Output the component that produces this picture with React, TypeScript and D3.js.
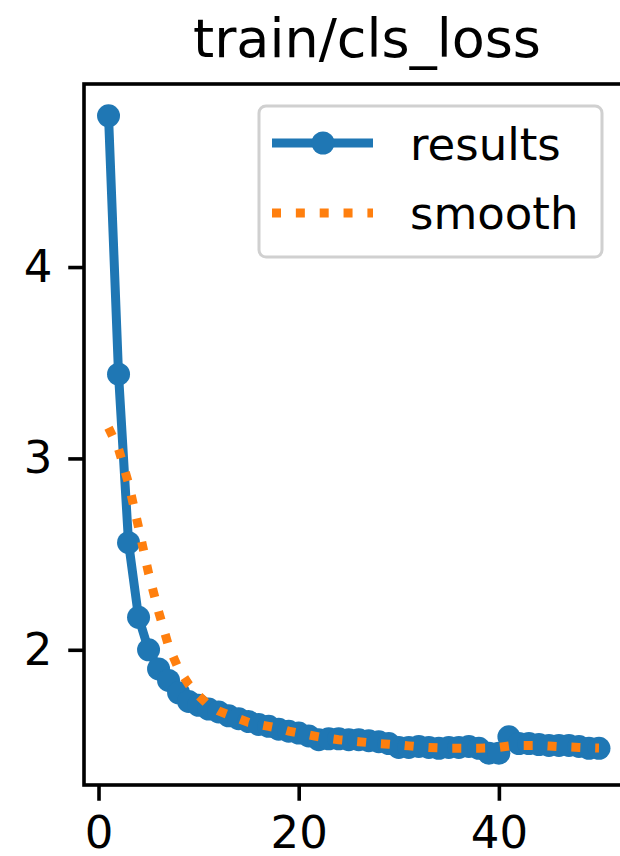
import React, { useEffect, useRef } from "react";
import * as d3 from "d3";

// loss per epoch
const results = [
  4.79, 3.44, 2.56, 2.17, 2.0, 1.9, 1.84, 1.775, 1.73, 1.71,
  1.69, 1.675, 1.655, 1.64, 1.625, 1.61, 1.6, 1.585, 1.575, 1.565,
  1.55, 1.53, 1.535, 1.535, 1.53, 1.53, 1.525, 1.52, 1.51, 1.49,
  1.49, 1.495, 1.49, 1.485, 1.49, 1.49, 1.495, 1.485, 1.46, 1.46,
  1.545, 1.51, 1.51, 1.505, 1.5, 1.5, 1.5, 1.495, 1.485, 1.485
];
const smooth = [
  3.16, 3.05, 2.87, 2.64, 2.4, 2.2, 2.02, 1.9, 1.82, 1.76,
  1.71, 1.68, 1.66, 1.64, 1.62, 1.61, 1.6, 1.59, 1.575, 1.565,
  1.555, 1.545, 1.537, 1.53, 1.525, 1.52, 1.515, 1.51, 1.507, 1.503,
  1.498, 1.493, 1.49, 1.488, 1.486, 1.486, 1.486, 1.486, 1.487, 1.49,
  1.497, 1.5, 1.5, 1.5, 1.497, 1.494, 1.492, 1.49, 1.488, 1.487
];
const epochs = results.map((_, i) => i + 1);
const xTicks = [0, 20, 40];
const yTicks = [2, 3, 4];
const title = "train/cls_loss";
const labels = ["results", "smooth"];

const W = 620;
const H = 856;
const left = 84;
const top = 84;
const right = 623.5;
const bottom = 785;
const font = "DejaVu Sans, sans-serif";
const blue = "#1f77b4";
const orange = "#ff7f0e";
const pt = 4.5; // px per point

// matplotlib-like 5% margins
const padded = (lo: number, hi: number) => {
  const m = (hi - lo) * 0.05;
  return [lo - m, hi + m];
};

const xScale = d3
  .scaleLinear()
  .domain(padded(d3.min(epochs)!, d3.max(epochs)!))
  .range([left, right]);
const allY = results.concat(smooth);
const yScale = d3
  .scaleLinear()
  .domain(padded(d3.min(allY)!, d3.max(allY)!))
  .range([bottom, top]);

export default function App() {
  const xAxisRef = useRef<SVGGElement>(null);
  const yAxisRef = useRef<SVGGElement>(null);

  useEffect(() => {
    const styleAxis = (g: any) => {
      g.select(".domain").remove();
      g.selectAll(".tick line").attr("stroke", "#000").attr("stroke-width", 0.8 * pt);
      g.selectAll(".tick text")
        .attr("fill", "#000")
        .style("font-family", font)
        .style("font-size", `${10 * pt}px`);
    };
    d3.select(xAxisRef.current!)
      .call(
        d3
          .axisBottom(xScale)
          .tickValues(xTicks)
          .tickSize(3.5 * pt)
          .tickSizeOuter(0)
          .tickPadding(3.5 * pt)
          .tickFormat(d3.format("d"))
      )
      .call(styleAxis);
    d3.select(yAxisRef.current!)
      .call(
        d3
          .axisLeft(yScale)
          .tickValues(yTicks)
          .tickSize(3.5 * pt)
          .tickSizeOuter(0)
          .tickPadding(3.5 * pt)
          .tickFormat(d3.format("d"))
      )
      .call(styleAxis);
  }, []);

  const line = d3
    .line<number>()
    .x((_, i) => xScale(epochs[i]))
    .y(d => yScale(d));

  const dash = `${2 * pt} ${3.3 * pt}`;

  return (
    <svg
      width={W}
      height={H}
      style={{ position: "absolute", left: 0, top: 0, background: "#fff" }}
    >
      <defs>
        <clipPath id="plot-area">
          <rect x={left} y={top} width={right - left} height={bottom - top} />
        </clipPath>
      </defs>
      <rect width={W} height={H} fill="#fff" />
      <text
        x={367}
        y={57}
        textAnchor="middle"
        fontFamily={font}
        fontSize={12 * pt}
        fill="#000"
      >
        {title}
      </text>
      <g clipPath="url(#plot-area)">
        <path
          d={line(results) || ""}
          fill="none"
          stroke={blue}
          strokeWidth={2 * pt}
          strokeLinejoin="round"
          strokeLinecap="square"
        />
        {results.map((d, i) => (
          <circle
            key={i}
            cx={xScale(epochs[i])}
            cy={yScale(d)}
            r={11.5}
            fill={blue}
          />
        ))}
        <path
          d={line(smooth) || ""}
          fill="none"
          stroke={orange}
          strokeWidth={2 * pt}
          strokeDasharray={dash}
        />
      </g>
      <g ref={xAxisRef} transform={`translate(0,${bottom})`} />
      <g ref={yAxisRef} transform={`translate(${left},0)`} />
      <rect
        x={left}
        y={top}
        width={right - left}
        height={bottom - top}
        fill="none"
        stroke="#000"
        strokeWidth={0.8 * pt}
      />
      <g transform="translate(259,106)">
        <rect
          width={343}
          height={151}
          rx={7}
          fill="#fff"
          fillOpacity={0.8}
          stroke="#d0d0d0"
          strokeWidth={3}
        />
        <line x1={13} x2={114} y1={37} y2={37} stroke={blue} strokeWidth={2 * pt} />
        <circle cx={64} cy={37} r={11.5} fill={blue} />
        <text x={151} y={54} fontFamily={font} fontSize={10 * pt} fill="#000">
          {labels[0]}
        </text>
        <line
          x1={13}
          x2={114}
          y1={107}
          y2={107}
          stroke={orange}
          strokeWidth={2 * pt}
          strokeDasharray={dash}
        />
        <text x={151} y={123} fontFamily={font} fontSize={10 * pt} fill="#000">
          {labels[1]}
        </text>
      </g>
    </svg>
  );
}
